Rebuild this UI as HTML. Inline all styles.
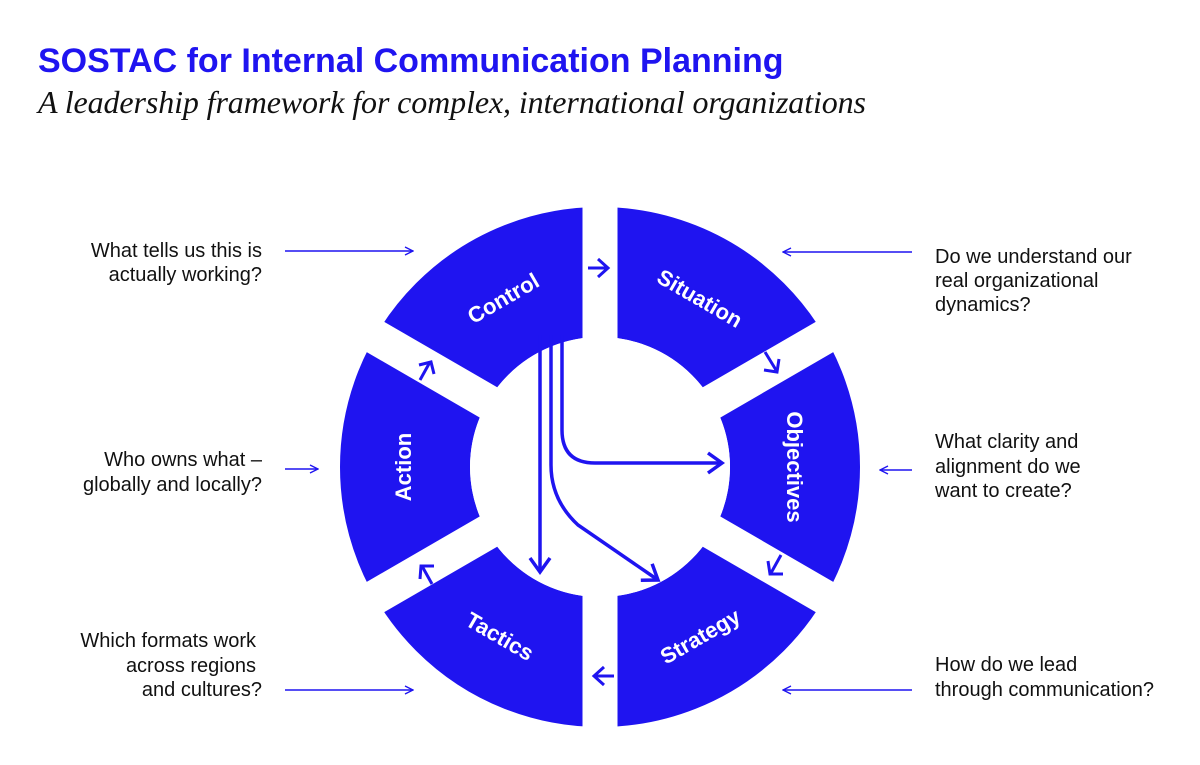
<!DOCTYPE html>
<html><head><meta charset="utf-8"><style>
body{margin:0;background:#fff;width:1200px;height:760px;overflow:hidden}
</style></head><body>
<svg width="1200" height="760" viewBox="0 0 1200 760" xmlns="http://www.w3.org/2000/svg">
<defs>
<marker id="ah" markerWidth="10" markerHeight="10" refX="9" refY="5" orient="auto" markerUnits="userSpaceOnUse" viewBox="0 0 10 10">
<path d="M1 1 L9 5 L1 9" fill="none" stroke="#1f14f0" stroke-width="1.4"/></marker>
<marker id="ab" markerWidth="26" markerHeight="26" refX="22" refY="13" orient="auto" markerUnits="userSpaceOnUse" viewBox="0 0 26 26">
<path d="M8 3 L22 13 L8 23" fill="none" stroke="#1f14f0" stroke-width="3.5"/></marker>
</defs>
<text x="38" y="72" font-family="Liberation Sans, sans-serif" font-weight="bold" font-size="34" fill="#1f14f0">SOSTAC for Internal Communication Planning</text>
<text x="38" y="113" font-family="Liberation Serif, serif" font-style="italic" font-size="32" fill="#111" textLength="828">A leadership framework for complex, international organizations</text>

<circle cx="600" cy="467" r="195" fill="none" stroke="#1f14f0" stroke-width="130"/>
<g stroke="#fff" stroke-width="35">
<line x1="600" y1="467" x2="600" y2="190"/>
<line x1="600" y1="467" x2="840" y2="328"/>
<line x1="600" y1="467" x2="840" y2="606"/>
<line x1="600" y1="467" x2="600" y2="745"/>
<line x1="600" y1="467" x2="360" y2="606"/>
<line x1="600" y1="467" x2="360" y2="328"/>
</g>
<circle cx="600" cy="467" r="130" fill="#fff"/>

<g font-family="Liberation Sans, sans-serif" font-weight="bold" font-size="22" fill="#fff" text-anchor="middle">
<text transform="translate(503,298) rotate(-30)" dy="8">Control</text>
<text transform="translate(700,298) rotate(30)" dy="8">Situation</text>
<text transform="translate(795,467) rotate(90)" dy="8">Objectives</text>
<text transform="translate(700,636) rotate(-30)" dy="8">Strategy</text>
<text transform="translate(500,636) rotate(30)" dy="8">Tactics</text>
<text transform="translate(403,467) rotate(-90)" dy="8">Action</text>
</g>

<g stroke="#1f14f0" stroke-width="3" fill="none">
<path d="M588 268 L607 268"/><path d="M598 259 L608 268 L598 277"/>
<path d="M765 352 L776 370"/><path d="M764 370 L777 372 L779 359"/>
<path d="M781 555 L771 573"/><path d="M768 561 L770 574 L783 574"/>
<path d="M614 676 L594 676"/><path d="M604 667 L594 676 L604 685"/>
<path d="M432 584 L422 566"/><path d="M420 579 L421 566 L434 566"/>
<path d="M420 380 L430 362"/><path d="M419 365 L431 362 L434 374"/>
</g>

<g stroke="#1f14f0" stroke-width="3.5" fill="none">
<path d="M540 335 L540 572" marker-end="url(#ab)"/>
<path d="M551 335 L551 465 Q551 500 578 525 L658 580" marker-end="url(#ab)"/>
<path d="M562 335 L562 430 Q562 463 595 463 L722 463" marker-end="url(#ab)"/>
</g>

<g stroke="#1f14f0" stroke-width="1.4">
<line x1="285" y1="251" x2="413" y2="251" marker-end="url(#ah)"/>
<line x1="285" y1="469" x2="318" y2="469" marker-end="url(#ah)"/>
<line x1="285" y1="690" x2="413" y2="690" marker-end="url(#ah)"/>
<line x1="912" y1="252" x2="783" y2="252" marker-end="url(#ah)"/>
<line x1="912" y1="470" x2="880" y2="470" marker-end="url(#ah)"/>
<line x1="912" y1="690" x2="783" y2="690" marker-end="url(#ah)"/>
</g>

<g font-family="Liberation Sans, sans-serif" font-size="20" fill="#111">
<g text-anchor="end">
<text x="262" y="257">What tells us this is</text>
<text x="262" y="281">actually working?</text>
<text x="262" y="466">Who owns what –</text>
<text x="262" y="491">globally and locally?</text>
<text x="256" y="647">Which formats work</text>
<text x="256" y="672">across regions</text>
<text x="262" y="696">and cultures?</text>
</g>
<text x="935" y="263">Do we understand our</text>
<text x="935" y="287">real organizational</text>
<text x="935" y="311">dynamics?</text>
<text x="935" y="448">What clarity and</text>
<text x="935" y="473">alignment do we</text>
<text x="935" y="497">want to create?</text>
<text x="935" y="671">How do we lead</text>
<text x="935" y="696">through communication?</text>
</g>
</svg>
</body></html>
